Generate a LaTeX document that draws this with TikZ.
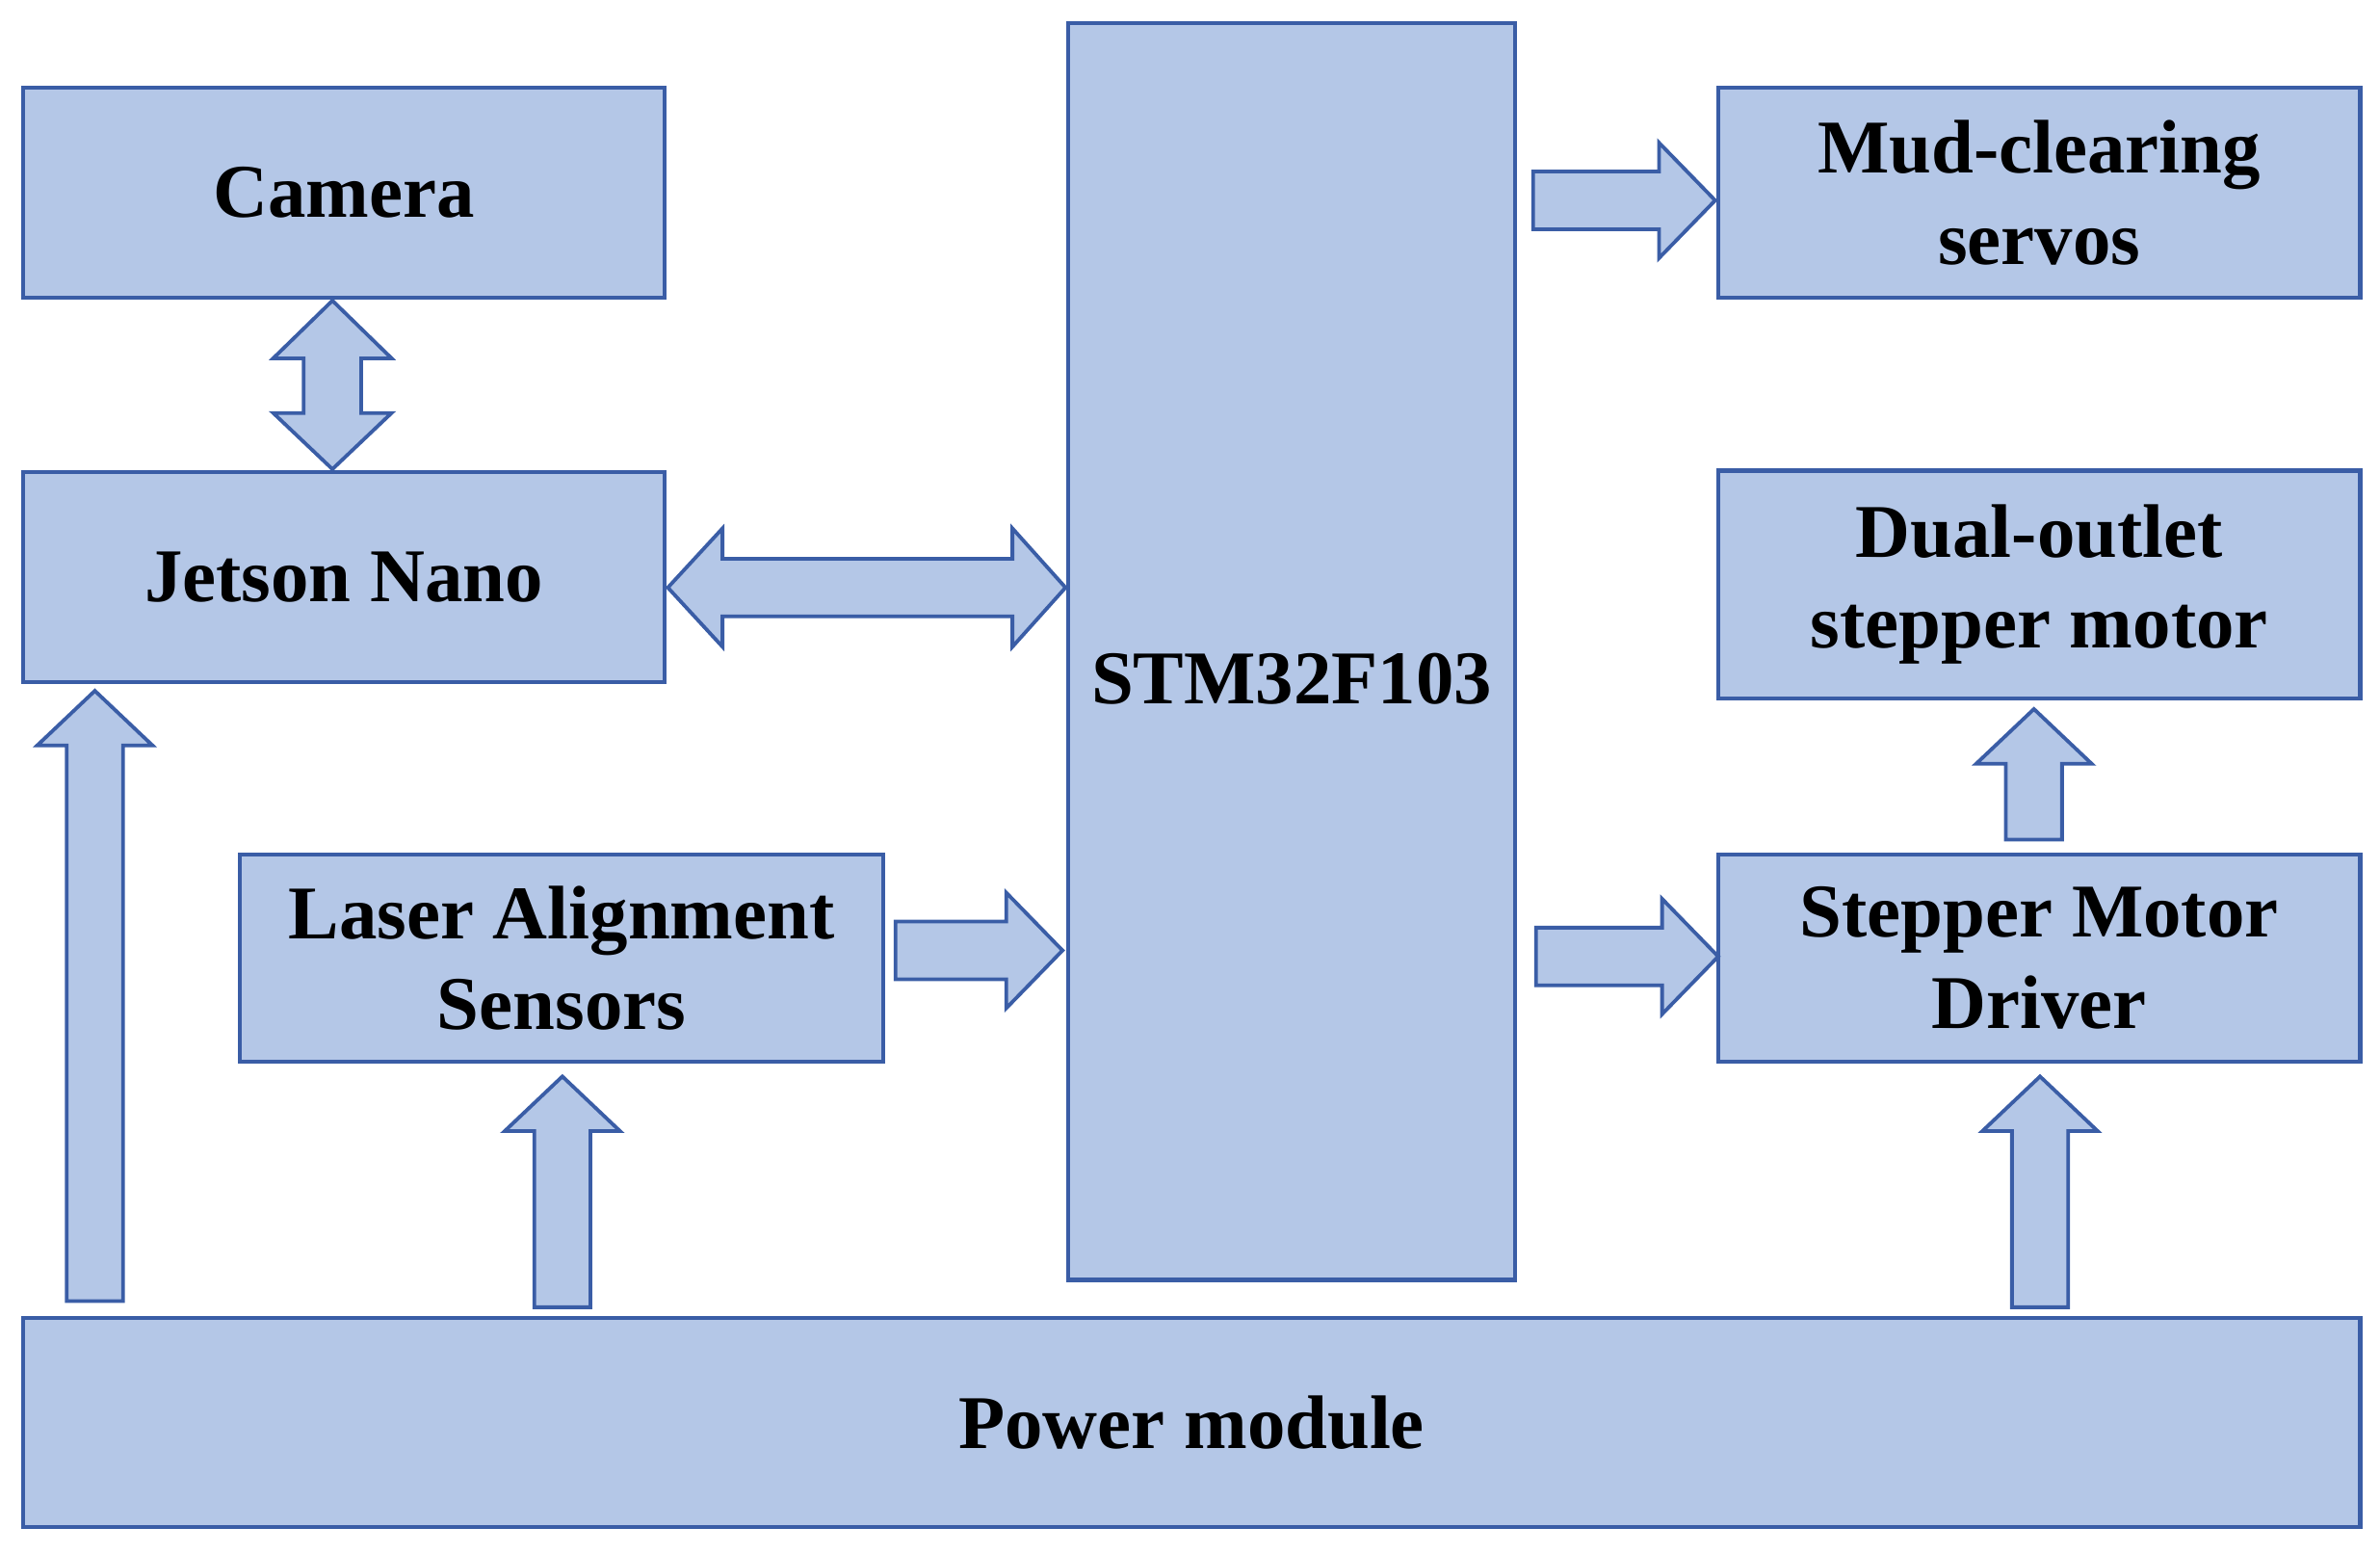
\documentclass[tikz,border=0pt]{standalone}
\usepackage{fontspec}
\setmainfont{Liberation Serif}
\begin{document}
\definecolor{bfill}{HTML}{B4C7E7}
\definecolor{bdraw}{HTML}{3A5DA6}
\begin{tikzpicture}[x=1pt,y=-1pt,
  box/.style={draw=bdraw,fill=bfill,line width=2.6pt},
  arr/.style={draw=bdraw,fill=bfill,line width=2.4pt,line join=miter},
  lbl/.style={font=\fontsize{50}{60}\selectfont\bfseries,align=center}]
\useasboundingbox (0,0) rectangle (1568,1023);
\newcommand{\uparr}[6]{\path[arr] (#1-#6,#4) -- (#1-#6,#3) -- (#1-#5,#3) -- (#1,#2) -- (#1+#5,#3) -- (#1+#6,#3) -- (#1+#6,#4) -- cycle;}
\newcommand{\rtarr}[6]{\path[arr] (#4,#1-#6) -- (#3,#1-#6) -- (#3,#1-#5) -- (#2,#1) -- (#3,#1+#5) -- (#3,#1+#6) -- (#4,#1+#6) -- cycle;}
\draw[box] (15,58) rectangle (438,196) node[midway,lbl] (cam) {Camera};
\draw[box] (15,311) rectangle (438,449) node[midway,lbl] (jet) {Jetson Nano};
\draw[box] (158,563) rectangle (582,699) node[midway,lbl] (las) {Laser Alignment\\Sensors};
\draw[box] (704,15) rectangle (998,843) node[midway,lbl,yshift=-18pt] (stm) {STM32F103};
\draw[box] (1132,58) rectangle (1555,196) node[midway,lbl] (mud) {Mud-clearing\\servos};
\draw[box] (1132,310) rectangle (1555,460) node[midway,lbl] (dual) {Dual-outlet\\stepper motor};
\draw[box] (1132,563) rectangle (1555,699) node[midway,lbl] (drv) {Stepper Motor\\Driver};
\draw[box] (15,868) rectangle (1555,1006) node[midway,lbl] (pow) {Power module};
% Camera-Jetson double arrow
\path[arr] (219,198) -- (258,236) -- (238,236) -- (238,272) -- (258,272) -- (219,309) -- (180,272) -- (200,272) -- (200,236) -- (180,236) -- cycle;
% Jetson-STM double arrow
\path[arr] (440,387) -- (476,348) -- (476,368) -- (667,368) -- (667,348) -- (702,387) -- (667,426) -- (667,406) -- (476,406) -- (476,426) -- cycle;
\uparr{62.5}{455}{491}{857}{38}{18.5}
\uparr{370.5}{709}{745}{861}{38}{18.5}
\uparr{1344}{709}{745}{861}{38}{18.5}
\uparr{1340}{467}{503}{553}{38}{18.5}
\rtarr{626}{700}{663}{590}{38}{19}
\rtarr{132}{1130}{1093}{1010}{38}{19}
\rtarr{630}{1132}{1095}{1012}{38}{19}
\end{tikzpicture}
\end{document}
